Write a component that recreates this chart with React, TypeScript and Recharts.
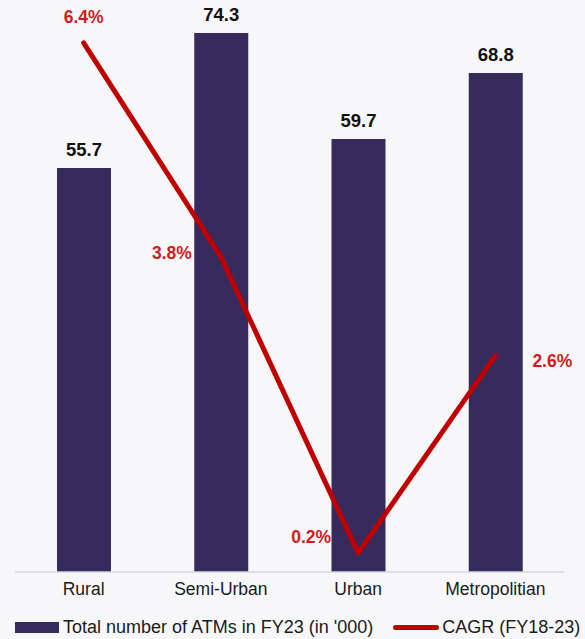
import { ComposedChart, Bar, Line, XAxis, YAxis, LabelList } from 'recharts'

const categories = ['Rural', 'Semi-Urban', 'Urban', 'Metropolitian']
const atms = [55.7, 74.3, 59.7, 68.8]
const cagr = [6.4, 3.8, 0.2, 2.6]

const C = { bar: '#372a5c', line: '#c00000', lineLabel: '#d01c1f', ink: '#111', tick: '#1a1a1a', bg: '#f7f7fa', axis: '#d6d6dc' }
const FONT = 'Liberation Sans, Arial, sans-serif'

const data = categories.map((name, i) => ({ name, atms: atms[i], cagr: cagr[i] }))

// where each CAGR label sits relative to its point
const cagrLabelPos = ['top', 'left', 'left', 'right']

function CagrLabel(props: any) {
  const { x, y, index, value } = props
  const pos = cagrLabelPos[index]
  let dx = 0
  let dy = 0
  let anchor: 'middle' | 'end' | 'start' = 'middle'
  if (pos === 'top') { dy = -26 }
  if (pos === 'left') { dx = -29; dy = -4; anchor = 'end' }
  if (pos === 'left' && index === 2) { dx = -27; dy = -16 }
  if (pos === 'right') { dx = 37; dy = 5; anchor = 'start' }
  return (
    <text x={x + dx} y={y + dy} textAnchor={anchor} dominantBaseline="central" fill={C.lineLabel}
      fontSize={17.5} fontWeight={700} fontFamily={FONT}>
      {`${Number(value).toFixed(1)}%`}
    </text>
  )
}

export default function App() {
  return (
    <div style={{ position: 'fixed', left: 0, top: 0, width: 585, height: 639, background: C.bg, fontFamily: FONT, overflow: 'hidden' }}>
      <ComposedChart width={585} height={604} data={data} margin={{ top: 28, right: 21, left: 15, bottom: 0 }} barCategoryGap={83}>
        <XAxis dataKey="name" tickLine={false} axisLine={{ stroke: C.axis, strokeWidth: 1.5 }} height={32}
          tick={{ fontSize: 17.5, fill: C.tick, fontFamily: FONT }} tickMargin={5} interval={0} />
        <YAxis yAxisId="l" hide domain={[0, 75]} />
        <YAxis yAxisId="r" orientation="right" hide domain={[-0.03, 6.58]} />
        <Bar yAxisId="l" dataKey="atms" fill={C.bar} barSize={54} isAnimationActive={false}>
          <LabelList dataKey="atms" position="top" offset={12} fill={C.ink} fontSize={18.5} fontWeight={700} fontFamily={FONT}
            formatter={(v: any) => Number(v).toFixed(1)} />
        </Bar>
        <Line yAxisId="r" dataKey="cagr" type="linear" stroke={C.line} strokeWidth={5} dot={false} activeDot={false}
          strokeLinecap="round" strokeLinejoin="round" isAnimationActive={false}>
          <LabelList dataKey="cagr" content={CagrLabel} />
        </Line>
      </ComposedChart>
      {/* legend */}
      <div style={{ position: 'absolute', left: 15, top: 617, display: 'flex', alignItems: 'center', fontSize: 18, color: C.tick, whiteSpace: 'nowrap' }}>
        <span style={{ display: 'inline-block', width: 44, height: 11, background: C.bar, marginRight: 4 }} />
        <span>Total number of ATMs in FY23 (in '000)</span>
        <span style={{ display: 'inline-block', width: 46, height: 5, borderRadius: 3, background: C.line, marginLeft: 20, marginRight: 3 }} />
        <span>CAGR (FY18-23)</span>
      </div>
    </div>
  )
}
